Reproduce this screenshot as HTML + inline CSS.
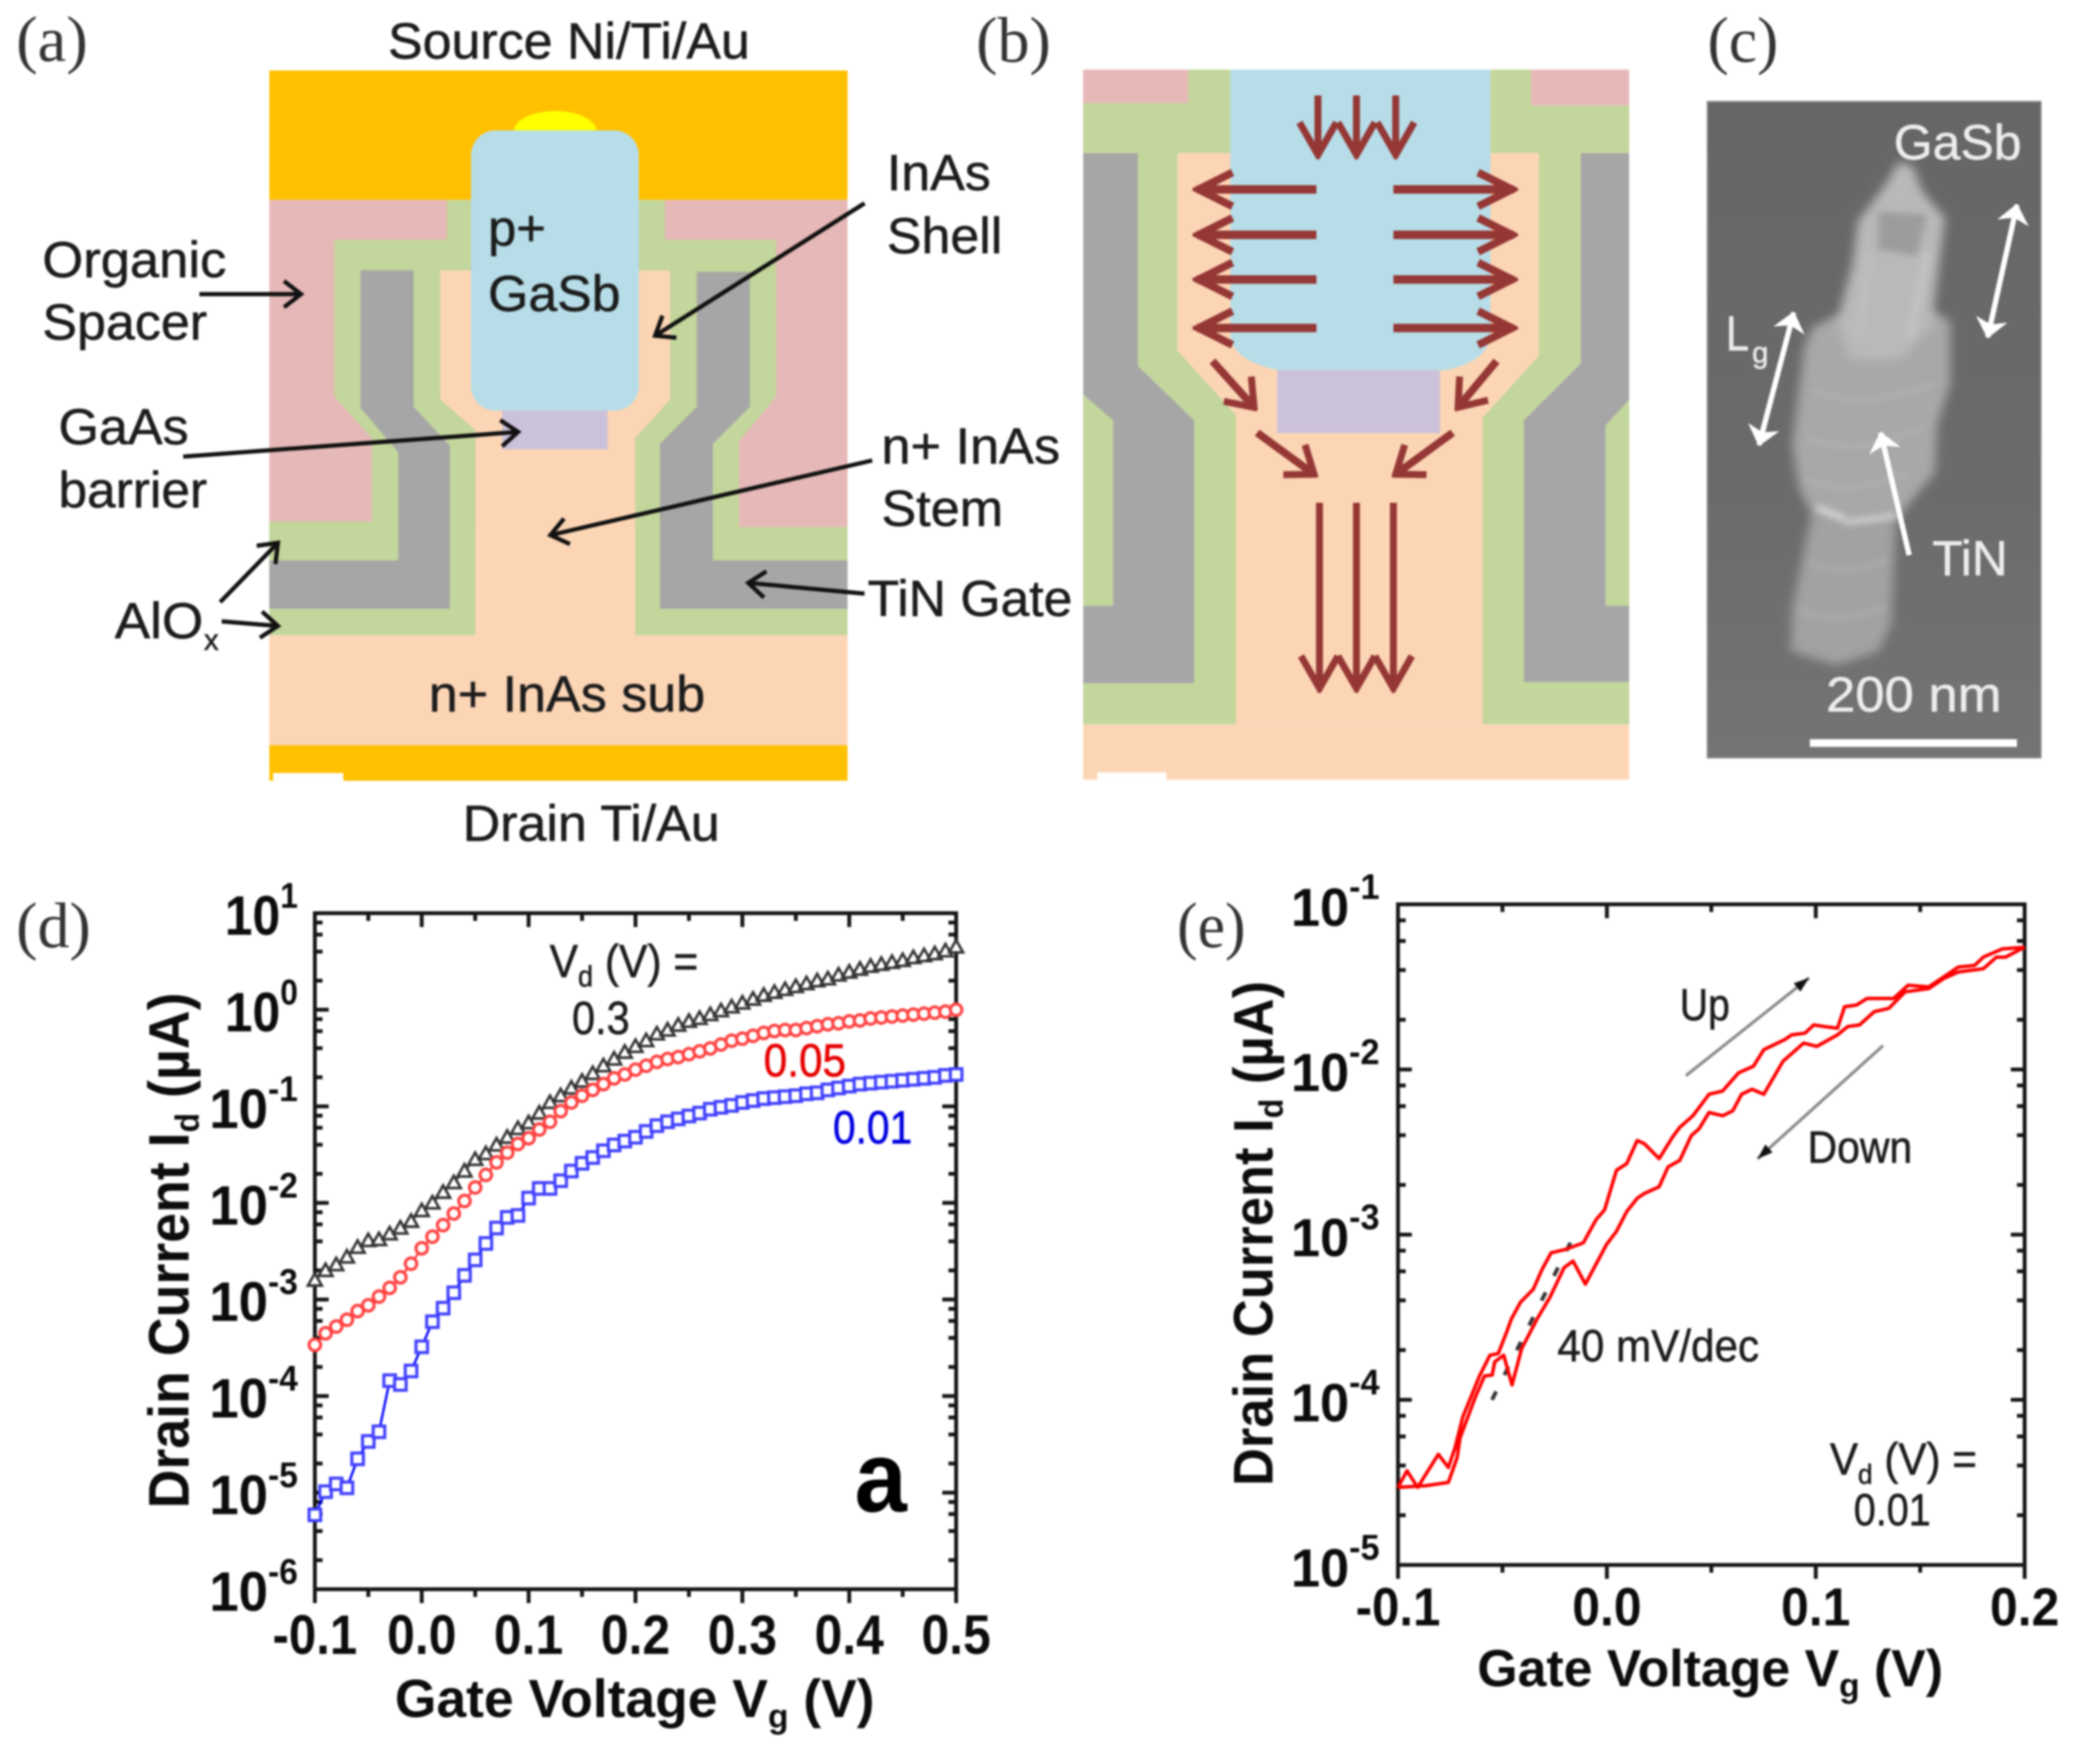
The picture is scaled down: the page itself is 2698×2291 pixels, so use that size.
<!DOCTYPE html>
<html lang="en">
<head>
<meta charset="utf-8">
<title>Nanowire TFET device schematics and transfer characteristics</title>
<style>
html,body{margin:0;padding:0;background:#fff;width:2698px;height:2291px;overflow:hidden}
#figure{display:block;filter:blur(1.3px)}
text{font-family:"Liberation Sans",Arial,sans-serif;fill:#1c1c1c;stroke:#1c1c1c;stroke-width:.7px}
.ser{font-family:"Liberation Serif","Times New Roman",serif;fill:#333;stroke:none}
.b{font-weight:bold;fill:#0c0c0c;stroke:none}
.sem{fill:#ececec;stroke:#ececec}
</style>
</head>
<body>
<svg id="figure" xmlns="http://www.w3.org/2000/svg" width="2698" height="2291" viewBox="0 0 2698 2291">
<defs>
<marker id="ah" markerUnits="userSpaceOnUse" markerWidth="36" markerHeight="40" viewBox="0 0 36 40" refX="30" refY="20" orient="auto"><path d="M8,3 L30,20 L8,37" fill="none" stroke="#111" stroke-width="5.5"/></marker>
<marker id="rv" markerUnits="userSpaceOnUse" markerWidth="54" markerHeight="60" viewBox="0 0 54 60" refX="48" refY="30" orient="auto"><path d="M6,6 L48,30 L6,54" fill="none" stroke="#953735" stroke-width="9"/></marker>
<marker id="rh" markerUnits="userSpaceOnUse" markerWidth="60" markerHeight="56" viewBox="0 0 60 56" refX="54" refY="28" orient="auto"><path d="M8,6 L52,28 L8,50" fill="none" stroke="#953735" stroke-width="10"/></marker>
<marker id="rd" markerUnits="userSpaceOnUse" markerWidth="46" markerHeight="60" viewBox="0 0 46 60" refX="40" refY="30" orient="auto"><path d="M8,6 L40,30 L8,54" fill="none" stroke="#953735" stroke-width="9"/></marker>
<marker id="wh" markerUnits="userSpaceOnUse" markerWidth="34" markerHeight="44" viewBox="0 0 34 44" refX="28" refY="22" orient="auto-start-reverse"><path d="M6,4 L28,22 L6,40 L12,22 Z" fill="#fff" stroke="#fff" stroke-width="2"/></marker>
<marker id="gh" markerUnits="userSpaceOnUse" markerWidth="24" markerHeight="18" viewBox="0 0 24 18" refX="22" refY="9" orient="auto"><path d="M2,2 L22,9 L2,16 Z" fill="#111"/></marker>
<filter id="semblur" x="-30%" y="-30%" width="160%" height="160%"><feGaussianBlur stdDeviation="20 13"/></filter>
<filter id="semfine" x="-30%" y="-30%" width="160%" height="160%"><feGaussianBlur stdDeviation="14 9"/></filter>
<linearGradient id="sembg" x1="0" y1="0" x2="0" y2="1"><stop offset="0" stop-color="#666"/><stop offset="0.6" stop-color="#6b6b6b"/><stop offset="1" stop-color="#747474"/></linearGradient>
</defs>

<!-- PANEL A -->
<g transform="scale(0.829,0.7207)">
<rect x="422" y="127" width="906" height="233" fill="#ffc000"/>
<ellipse cx="870" cy="237" rx="65" ry="37" fill="#ffff00"/>
<rect x="422" y="360" width="906" height="590" fill="#e6b8b7"/>
<polygon fill="#c3d69b" points="700,360 700,432 524,432 524,715 583,790 583,940 422,940 422,1145 745,1145 745,775 690,720 690,487 738,487 738,360"/>
<polygon fill="#c3d69b" points="1000,360 1042,360 1042,432 1216,432 1216,715 1158,795 1158,950 1328,950 1328,1145 995,1145 995,790 1050,720 1050,487 1000,487"/>
<polygon fill="#a6a6a6" points="565,487 648,487 648,733 705,803 705,1097 422,1097 422,1010 624,1010 624,815 565,735"/>
<polygon fill="#a6a6a6" points="1092,490 1175,490 1175,733 1117,800 1117,1010 1328,1010 1328,1097 1034,1097 1034,800 1092,733"/>
<polygon fill="#fcd5b5" points="690,487 1050,487 1050,720 995,790 995,1145 745,1145 745,775 690,720"/>
<rect x="422" y="1145" width="906" height="198" fill="#fcd5b5"/>
<rect x="422" y="1343" width="906" height="64" fill="#ffc000"/>
<rect x="428" y="1393" width="110" height="14" fill="#fff"/>
<rect x="738" y="235" width="263" height="505" rx="38" ry="45" fill="#b7dde8"/>
<rect x="787" y="740" width="165" height="70" fill="#ccc1da"/>
</g>
<g stroke="#111" stroke-width="5.5" fill="none">
<line x1="259" y1="382" x2="391" y2="382" marker-end="url(#ah)"/>
<line x1="1123" y1="264" x2="851" y2="436" marker-end="url(#ah)"/>
<line x1="238" y1="593" x2="673" y2="561" marker-end="url(#ah)"/>
<line x1="1133" y1="598" x2="715" y2="695" marker-end="url(#ah)"/>
<line x1="1123" y1="771" x2="972" y2="757" marker-end="url(#ah)"/>
<line x1="286" y1="782" x2="361" y2="705" marker-end="url(#ah)"/>
<line x1="288" y1="807" x2="361" y2="813" marker-end="url(#ah)"/>
</g>
<g font-size="66">
<text class="ser" x="21" y="79" font-size="84" textLength="93" lengthAdjust="spacingAndGlyphs">(a)</text>
<text x="504" y="76" textLength="470" lengthAdjust="spacingAndGlyphs">Source Ni/Ti/Au</text>
<text x="55" y="360" textLength="239" lengthAdjust="spacingAndGlyphs">Organic</text>
<text x="55" y="441" textLength="214" lengthAdjust="spacingAndGlyphs">Spacer</text>
<text x="76" y="577" textLength="169" lengthAdjust="spacingAndGlyphs">GaAs</text>
<text x="76" y="659" textLength="193" lengthAdjust="spacingAndGlyphs">barrier</text>
<text x="149" y="829" textLength="115" lengthAdjust="spacingAndGlyphs">AlO</text>
<text x="265" y="844" font-size="38">x</text>
<text x="1152" y="247" textLength="135" lengthAdjust="spacingAndGlyphs">InAs</text>
<text x="1152" y="329" textLength="150" lengthAdjust="spacingAndGlyphs">Shell</text>
<text x="634" y="319" textLength="75" lengthAdjust="spacingAndGlyphs">p+</text>
<text x="634" y="404" textLength="172" lengthAdjust="spacingAndGlyphs">GaSb</text>
<text x="1145" y="602" textLength="232" lengthAdjust="spacingAndGlyphs">n+ InAs</text>
<text x="1145" y="683" textLength="158" lengthAdjust="spacingAndGlyphs">Stem</text>
<text x="1127" y="800" textLength="266" lengthAdjust="spacingAndGlyphs">TiN Gate</text>
<text x="557" y="924" textLength="359" lengthAdjust="spacingAndGlyphs">n+ InAs sub</text>
<text x="601" y="1092" textLength="334" lengthAdjust="spacingAndGlyphs">Drain Ti/Au</text>
</g>

<!-- PANEL B -->
<text class="ser" x="1268" y="80" font-size="84" textLength="97" lengthAdjust="spacingAndGlyphs">(b)</text>
<g transform="translate(1250,0) scale(0.9235,0.6696)">
<rect x="170" y="1405" width="768" height="107" fill="#fcd5b5"/>
<rect x="190" y="1498" width="97" height="14" fill="#fff"/>
<rect x="170" y="135" width="148" height="65" fill="#e6b8b7"/>
<rect x="800" y="135" width="138" height="70" fill="#e6b8b7"/>
<polygon fill="#c3d69b" points="318,135 377,135 377,297 303,297 303,680 385,805 385,1405 170,1405 170,1325 326,1325 326,815 247,710 247,297 170,297 170,200 318,200"/>
<polygon fill="#c3d69b" points="170,765 212,815 212,1175 170,1175"/>
<polygon fill="#a6a6a6" points="170,297 247,297 247,710 326,815 326,1325 170,1325 170,1175 212,1175 212,815 170,765"/>
<polygon fill="#c3d69b" points="743,135 800,135 800,205 938,205 938,297 870,297 870,705 790,815 790,1323 938,1323 938,1405 732,1405 732,810 811,690 811,297 743,297"/>
<polygon fill="#c3d69b" points="938,775 905,825 905,1175 938,1175"/>
<polygon fill="#a6a6a6" points="870,297 938,297 938,775 905,825 905,1175 938,1175 938,1323 790,1323 790,815 870,705"/>
<polygon fill="#fcd5b5" points="303,297 811,297 811,690 732,810 732,1405 385,1405 385,805 303,680"/>
<path fill="#b7dde8" d="M377,135 H743 V650 Q740,700 680,718 H445 Q380,700 377,650 Z"/>
<rect x="443" y="718" width="229" height="122" fill="#ccc1da"/>
</g>
<g stroke="#953735" stroke-width="9" fill="none">
<line x1="1712" y1="124" x2="1712" y2="201" marker-end="url(#rv)"/>
<line x1="1762" y1="124" x2="1762" y2="201" marker-end="url(#rv)"/>
<line x1="1813" y1="124" x2="1813" y2="201" marker-end="url(#rv)"/>
<g stroke-width="11">
<line x1="1710" y1="246" x2="1555" y2="246" marker-end="url(#rh)"/>
<line x1="1710" y1="305" x2="1555" y2="305" marker-end="url(#rh)"/>
<line x1="1710" y1="363" x2="1555" y2="363" marker-end="url(#rh)"/>
<line x1="1710" y1="426" x2="1555" y2="426" marker-end="url(#rh)"/>
<line x1="1810" y1="246" x2="1966" y2="246" marker-end="url(#rh)"/>
<line x1="1810" y1="305" x2="1966" y2="305" marker-end="url(#rh)"/>
<line x1="1810" y1="363" x2="1966" y2="363" marker-end="url(#rh)"/>
<line x1="1810" y1="426" x2="1966" y2="426" marker-end="url(#rh)"/>
</g>
<g stroke-width="10">
<line x1="1575" y1="469" x2="1629" y2="529" marker-end="url(#rd)"/>
<line x1="1944" y1="469" x2="1894" y2="529" marker-end="url(#rd)"/>
<line x1="1633" y1="562" x2="1707" y2="616" marker-end="url(#rd)"/>
<line x1="1887" y1="562" x2="1813" y2="616" marker-end="url(#rd)"/>
</g>
<line x1="1714" y1="653" x2="1714" y2="894" marker-end="url(#rv)"/>
<line x1="1762" y1="653" x2="1762" y2="894" marker-end="url(#rv)"/>
<line x1="1810" y1="653" x2="1810" y2="894" marker-end="url(#rv)"/>
</g>

<!-- PANEL C -->
<text class="ser" x="2218" y="80" font-size="84" textLength="92" lengthAdjust="spacingAndGlyphs">(c)</text>
<rect x="2218" y="132" width="433" height="852" fill="url(#sembg)" stroke="#8a8a8a" stroke-width="2"/>
<g transform="translate(2120,230) scale(0.3333,0.4464)">
<g filter="url(#semblur)">
<polygon fill="#a2a2a2" points="700,980 1030,980 1010,1300 960,1380 800,1420 620,1380 625,1250"/>
<polygon fill="#a8a8a8" points="700,440 800,400 1180,390 1240,420 1240,600 1190,720 1180,860 1080,950 1030,1000 830,1010 700,980 650,900 625,780 670,500"/>
<polygon fill="#b9b9b9" points="1040,-45 1095,-30 1130,40 1220,120 1180,350 1170,430 1050,530 850,530 800,420 860,250 880,130 990,20"/>
</g>
<g filter="url(#semfine)">
<polygon fill="#9c9c9c" points="960,100 1150,110 1110,230 960,210"/>
<line x1="930" y1="220" x2="880" y2="480" stroke="#c0c0c0" stroke-width="30" opacity=".7"/>
<line x1="1150" y1="220" x2="1080" y2="470" stroke="#c6c6c6" stroke-width="30" opacity=".8"/>
<line x1="720" y1="960" x2="830" y2="995" stroke="#d4d4d4" stroke-width="20"/>
<line x1="830" y1="1005" x2="1030" y2="985" stroke="#c8c8c8" stroke-width="20"/>
<path d="M700,620 Q900,680 1180,600 M680,760 Q900,820 1150,720 M680,880 Q860,930 1080,860 M680,1120 Q820,1170 1000,1110 M650,1260 Q800,1310 980,1250" fill="none" stroke="#bcbcbc" stroke-width="16" opacity=".35"/>
</g>
</g>
<g stroke="#fff" stroke-width="7" fill="none">
<line x1="2620" y1="266" x2="2582" y2="438" marker-start="url(#wh)" marker-end="url(#wh)"/>
<line x1="2330" y1="406" x2="2285" y2="578" marker-start="url(#wh)" marker-end="url(#wh)"/>
<line x1="2480" y1="721" x2="2443" y2="562" marker-end="url(#wh)"/>
</g>
<rect x="2351" y="960" width="269" height="10" fill="#fff"/>
<g font-size="64">
<text class="sem" x="2460" y="207" textLength="166" lengthAdjust="spacingAndGlyphs">GaSb</text>
<text class="sem" x="2242" y="455" textLength="30" lengthAdjust="spacingAndGlyphs">L</text>
<text class="sem" x="2276" y="471" font-size="38">g</text>
<text class="sem" x="2510" y="747" textLength="98" lengthAdjust="spacingAndGlyphs">TiN</text>
<text class="sem" x="2372" y="924" textLength="228" lengthAdjust="spacingAndGlyphs">200 nm</text>
</g>

<!-- PANEL D -->
<g id="chart-d">
<text class="ser" x="21" y="1230" font-size="84" textLength="97" lengthAdjust="spacingAndGlyphs">(d)</text>
<text class="b" transform="translate(245,1959) rotate(-90)" font-size="74" textLength="670" lengthAdjust="spacingAndGlyphs">Drain Current I<tspan dy="13" font-size="44">d</tspan><tspan dy="-13"> (µA)</tspan></text>
<text class="b" x="513" y="2230" font-size="70" textLength="623" lengthAdjust="spacingAndGlyphs">Gate Voltage V<tspan dy="14" font-size="44">g</tspan><tspan dy="-14"> (V)</tspan></text>
<text x="714" y="1269" font-size="60" textLength="193" lengthAdjust="spacingAndGlyphs">V<tspan dy="12" font-size="38">d</tspan><tspan dy="-12"> (V) =</tspan></text>
<text x="743" y="1343" font-size="60" textLength="75" lengthAdjust="spacingAndGlyphs">0.3</text>
<text x="992" y="1398" font-size="60" textLength="107" lengthAdjust="spacingAndGlyphs" style="fill:#e60000;stroke:#e60000">0.05</text>
<text x="1082" y="1485" font-size="60" textLength="103" lengthAdjust="spacingAndGlyphs" style="fill:#0000e0;stroke:#0000e0">0.01</text>
<text class="b" x="1110" y="1963" font-size="130" textLength="68" lengthAdjust="spacingAndGlyphs" style="fill:#000">a</text>
</g>

<!-- PANEL E -->
<g id="chart-e">
<text class="ser" x="1529" y="1230" font-size="84" textLength="89" lengthAdjust="spacingAndGlyphs">(e)</text>
<text class="b" transform="translate(1653,1930) rotate(-90)" font-size="72" textLength="656" lengthAdjust="spacingAndGlyphs">Drain Current I<tspan dy="13" font-size="44">d</tspan><tspan dy="-13"> (µA)</tspan></text>
<text class="b" x="1919" y="2190" font-size="68" textLength="605" lengthAdjust="spacingAndGlyphs">Gate Voltage V<tspan dy="14" font-size="44">g</tspan><tspan dy="-14"> (V)</tspan></text>
<line x1="2190" y1="1397" x2="2350" y2="1270" stroke="#8a8a8a" stroke-width="4" marker-end="url(#gh)"/>
<line x1="2446" y1="1358" x2="2283" y2="1505" stroke="#8a8a8a" stroke-width="4" marker-end="url(#gh)"/>
<text x="2182" y="1325" font-size="58" textLength="65" lengthAdjust="spacingAndGlyphs">Up</text>
<text x="2348" y="1510" font-size="58" textLength="136" lengthAdjust="spacingAndGlyphs">Down</text>
<text x="2023" y="1768" font-size="58" textLength="262" lengthAdjust="spacingAndGlyphs">40 mV/dec</text>
<text x="2377" y="1915" font-size="58" textLength="191" lengthAdjust="spacingAndGlyphs">V<tspan dy="12" font-size="36">d</tspan><tspan dy="-12"> (V) =</tspan></text>
<text x="2408" y="1981" font-size="58" textLength="100" lengthAdjust="spacingAndGlyphs">0.01</text>
</g>
</svg>

<script>
// ---------- Chart (d) data: log10 of drain current in µA ----------
var vgD = [-0.10,-0.09,-0.08,-0.07,-0.06,-0.05,-0.04,-0.03,-0.02,-0.01,0.00,0.01,0.02,0.03,0.04,0.05,0.06,0.07,0.08,0.09,0.10,0.11,0.12,0.13,0.14,0.15,0.16,0.17,0.18,0.19,0.20,0.21,0.22,0.23,0.24,0.25,0.26,0.27,0.28,0.29,0.30,0.31,0.32,0.33,0.34,0.35,0.36,0.37,0.38,0.39,0.40,0.41,0.42,0.43,0.44,0.45,0.46,0.47,0.48,0.49,0.50];
var logIdBlack = [-2.80,-2.70,-2.64,-2.56,-2.46,-2.39,-2.38,-2.32,-2.26,-2.19,-2.08,-2.00,-1.89,-1.79,-1.67,-1.55,-1.49,-1.40,-1.32,-1.23,-1.17,-1.07,-0.96,-0.89,-0.81,-0.74,-0.66,-0.58,-0.51,-0.44,-0.38,-0.32,-0.25,-0.21,-0.16,-0.12,-0.09,-0.05,-0.01,0.03,0.07,0.11,0.15,0.18,0.21,0.24,0.27,0.30,0.32,0.36,0.39,0.42,0.45,0.47,0.49,0.51,0.54,0.56,0.58,0.61,0.65];
var logIdRed = [-3.47,-3.35,-3.28,-3.21,-3.12,-3.06,-2.97,-2.88,-2.77,-2.63,-2.47,-2.35,-2.23,-2.11,-1.98,-1.84,-1.71,-1.58,-1.48,-1.39,-1.33,-1.24,-1.16,-1.05,-0.96,-0.89,-0.83,-0.77,-0.71,-0.67,-0.62,-0.58,-0.54,-0.51,-0.49,-0.46,-0.43,-0.40,-0.36,-0.32,-0.30,-0.27,-0.24,-0.22,-0.21,-0.21,-0.19,-0.17,-0.15,-0.14,-0.12,-0.11,-0.09,-0.08,-0.07,-0.06,-0.05,-0.04,-0.03,-0.02,0.00];
var logIdBlue = [-5.23,-4.99,-4.91,-4.95,-4.65,-4.47,-4.37,-3.84,-3.88,-3.74,-3.49,-3.23,-3.09,-2.93,-2.75,-2.59,-2.42,-2.26,-2.15,-2.13,-1.95,-1.85,-1.85,-1.77,-1.67,-1.59,-1.53,-1.46,-1.40,-1.36,-1.32,-1.26,-1.20,-1.16,-1.13,-1.10,-1.07,-1.03,-1.01,-0.99,-0.96,-0.94,-0.92,-0.91,-0.90,-0.89,-0.87,-0.86,-0.83,-0.81,-0.79,-0.77,-0.76,-0.75,-0.74,-0.73,-0.72,-0.71,-0.70,-0.68,-0.67];
var xTicksD = [-0.1,0.0,0.1,0.2,0.3,0.4,0.5];
var xTickLabelsD = ["-0.1","0.0","0.1","0.2","0.3","0.4","0.5"];
var yTicksD = [1,0,-1,-2,-3,-4,-5,-6];

// ---------- Chart (e) data: upper and lower sweep traces ----------
var vgUpper = [-0.1,-0.0957,-0.0906,-0.0807,-0.0759,-0.0727,-0.069,-0.061,-0.056,-0.052,-0.048,-0.0457,-0.0414,-0.0352,-0.031,-0.0267,-0.0199,-0.0113,-0.0052,-0.0011,0.0046,0.0095,0.0145,0.018,0.025,0.0314,0.0349,0.0412,0.0489,0.0554,0.0631,0.0702,0.0751,0.085,0.0885,0.0949,0.099,0.104,0.1104,0.1138,0.1195,0.1245,0.1372,0.1442,0.1541,0.1612,0.1682,0.176,0.1802,0.1893,0.2];
var logIdUpper = [-4.53,-4.43,-4.53,-4.33,-4.41,-4.29,-4.105,-3.856,-3.73,-3.72,-3.59,-3.51,-3.41,-3.33,-3.21,-3.11,-3.09,-3.05,-2.91,-2.85,-2.61,-2.57,-2.43,-2.45,-2.54,-2.41,-2.35,-2.28,-2.15,-2.13,-2.02,-1.98,-1.88,-1.82,-1.79,-1.78,-1.73,-1.74,-1.75,-1.62,-1.61,-1.57,-1.57,-1.49,-1.50,-1.44,-1.38,-1.37,-1.32,-1.27,-1.26];
var vgLower = [-0.1,-0.0866,-0.0759,-0.0717,-0.0703,-0.0629,-0.0586,-0.0549,-0.0537,-0.0494,-0.0454,-0.0408,-0.0334,-0.0273,-0.0205,-0.0162,-0.0103,-0.0002,0.0046,0.0095,0.0145,0.018,0.025,0.0293,0.0349,0.0404,0.0441,0.0489,0.0554,0.0603,0.0645,0.0695,0.0751,0.0843,0.0942,0.1005,0.1104,0.1153,0.121,0.128,0.135,0.1428,0.1541,0.1612,0.1682,0.1802,0.1865,0.1908,0.2];
var logIdLower = [-4.53,-4.52,-4.50,-4.35,-4.23,-3.98,-3.856,-3.85,-3.77,-3.73,-3.91,-3.69,-3.51,-3.38,-3.20,-3.16,-3.30,-3.06,-2.98,-2.86,-2.78,-2.75,-2.71,-2.59,-2.55,-2.40,-2.36,-2.26,-2.28,-2.25,-2.15,-2.12,-2.15,-1.95,-1.84,-1.86,-1.79,-1.74,-1.73,-1.65,-1.63,-1.53,-1.51,-1.45,-1.41,-1.39,-1.32,-1.32,-1.26];
var vgFit = [-0.055,-0.0155];
var logIdFit = [-4,-3];
var xTicksE = [-0.1,0.0,0.1,0.2];
var xTickLabelsE = ["-0.1","0.0","0.1","0.2"];
var yTicksE = [-1,-2,-3,-4,-5];

var SVGNS = "http://www.w3.org/2000/svg";
function make(parent, tag, attrs){
  var el = document.createElementNS(SVGNS, tag);
  for (var k in attrs) el.setAttribute(k, attrs[k]);
  parent.appendChild(el);
  return el;
}
function linScale(d0,d1,r0,r1){ return function(v){ return r0 + (v-d0)*(r1-r0)/(d1-d0); }; }
function linePath(xs,ys,sx,sy){
  return xs.map(function(v,i){ return (i?"L":"M")+sx(v).toFixed(1)+","+sy(ys[i]).toFixed(1); }).join(" ");
}

function drawFrame(root, name, L, R, T, B, sx, sy, xTicks, xLabels, yTicks, xMinorStep, xMin, xMax, yMin, yMax, labelRight, xLabelBase, fontMain, fontSup){
  var frame = make(root,"g",{});
  
  
  var box = make(frame,"rect",{x:L,y:T,width:R-L,height:B-T,fill:"none",stroke:"#151515","stroke-width":5});
  
  
  function tick(x1,y1,x2,y2,w){ 
    var t = make(frame,"line",{x1:x1,y1:y1,x2:x2,y2:y2,stroke:"#151515","stroke-width":w});
    
    
  }
  var n = Math.round((xMax-xMin)/xMinorStep);
  for (var i=0;i<=n;i++){
    var v = xMin + i*xMinorStep, major = i%2===0, len = major?18:10, x = sx(v);
    tick(x,B,x,B+len,5);
    tick(x,T,x,T+len,5);
  }
  for (var e=yMin;e<=yMax;e++){
    var y = sy(e);
    tick(L,y,L+18,y,5); tick(R,y,R-18,y,5);
    if (e<yMax){
      [2,4,6,8].forEach(function(m){
        var ym = sy(e+Math.log10(m));
        tick(L,ym,L+10,ym,5); tick(R,ym,R-10,ym,5);
      });
    }
  }
  xTicks.forEach(function(v,i){
    var lab = xLabels[i];
    var t = make(frame,"text",{x:sx(v),y:xLabelBase,"text-anchor":"middle","font-size":fontMain,"class":"b",textLength:lab.length>3?110:90,lengthAdjust:"spacingAndGlyphs"});
    
    
    t.textContent = lab;
  });
  yTicks.forEach(function(e){
    var txt = String(e);
    var t = make(frame,"text",{x:labelRight,y:sy(e)+28,"text-anchor":"end","font-size":fontMain,"class":"b",textLength:txt.length>1?115:95,lengthAdjust:"spacingAndGlyphs"});
    
    
    t.appendChild(document.createTextNode("10"));
    var s = make(t,"tspan",{dy:-35,"font-size":fontSup});
    s.textContent = txt;
  });
}

// --- Chart d ---
(function(){
  var root = document.getElementById("chart-d");
  var L=409,R=1242,T=1186,B=2064;
  var sx = linScale(-0.1,0.5,L,R), sy = linScale(-6,1,B,T);
  drawFrame(root,"chart-d",L,R,T,B,sx,sy,xTicksD,xTickLabelsD,yTicksD,0.05,-0.1,0.5,-6,1,387,2148,72,46);

  var g0 = make(root,"g",{fill:"none"});
  
  
  var l0 = make(g0,"path",{d:linePath(vgD,logIdBlack,sx,sy),stroke:"#444","stroke-width":2.5});
  
  
  vgD.forEach(function(v,i){
    var x=sx(v),y=sy(logIdBlack[i]);
    var p = make(g0,"path",{d:"M"+(x-9)+","+(y+7)+" L"+x+","+(y-9)+" L"+(x+9)+","+(y+7)+" Z",fill:"#fff",stroke:"#333","stroke-width":3.4});
    
    
  });

  var g1 = make(root,"g",{fill:"none"});
  
  
  var l1 = make(g1,"path",{d:linePath(vgD,logIdRed,sx,sy),stroke:"#ff2020","stroke-width":2.5});
  
  
  vgD.forEach(function(v,i){
    var c = make(g1,"circle",{cx:sx(v),cy:sy(logIdRed[i]),r:7.5,fill:"#fff",stroke:"#ff4040","stroke-width":4});
    
    
  });

  var g2 = make(root,"g",{fill:"none"});
  
  
  var l2 = make(g2,"path",{d:linePath(vgD,logIdBlue,sx,sy),stroke:"#0000ff","stroke-width":3});
  
  
  vgD.forEach(function(v,i){
    var r = make(g2,"rect",{x:sx(v)-7.5,y:sy(logIdBlue[i])-7.5,width:15,height:15,fill:"#fff",stroke:"#4040ff","stroke-width":4});
    
    
  });
})();

// --- Chart e ---
(function(){
  var root = document.getElementById("chart-e");
  var L=1816,R=2630,T=1174.5,B=2032.5;
  var sx = linScale(-0.1,0.2,L,R), sy = linScale(-5,-1,B,T);
  drawFrame(root,"chart-e",L,R,T,B,sx,sy,xTicksE,xTickLabelsE,yTicksE,0.05,-0.1,0.2,-5,-1,1792,2111,70,46);

  var f = make(root,"path",{d:linePath(vgFit,logIdFit,sx,sy),fill:"none",stroke:"#333","stroke-width":5,"stroke-dasharray":"12 24"});
  
  
  var u = make(root,"path",{d:linePath(vgUpper,logIdUpper,sx,sy),fill:"none",stroke:"#ff0000","stroke-width":4.5,"stroke-linejoin":"round"});
  
  
  var d = make(root,"path",{d:linePath(vgLower,logIdLower,sx,sy),fill:"none",stroke:"#ff0000","stroke-width":4.5,"stroke-linejoin":"round"});
  
  
})();
</script>
</body>
</html>
